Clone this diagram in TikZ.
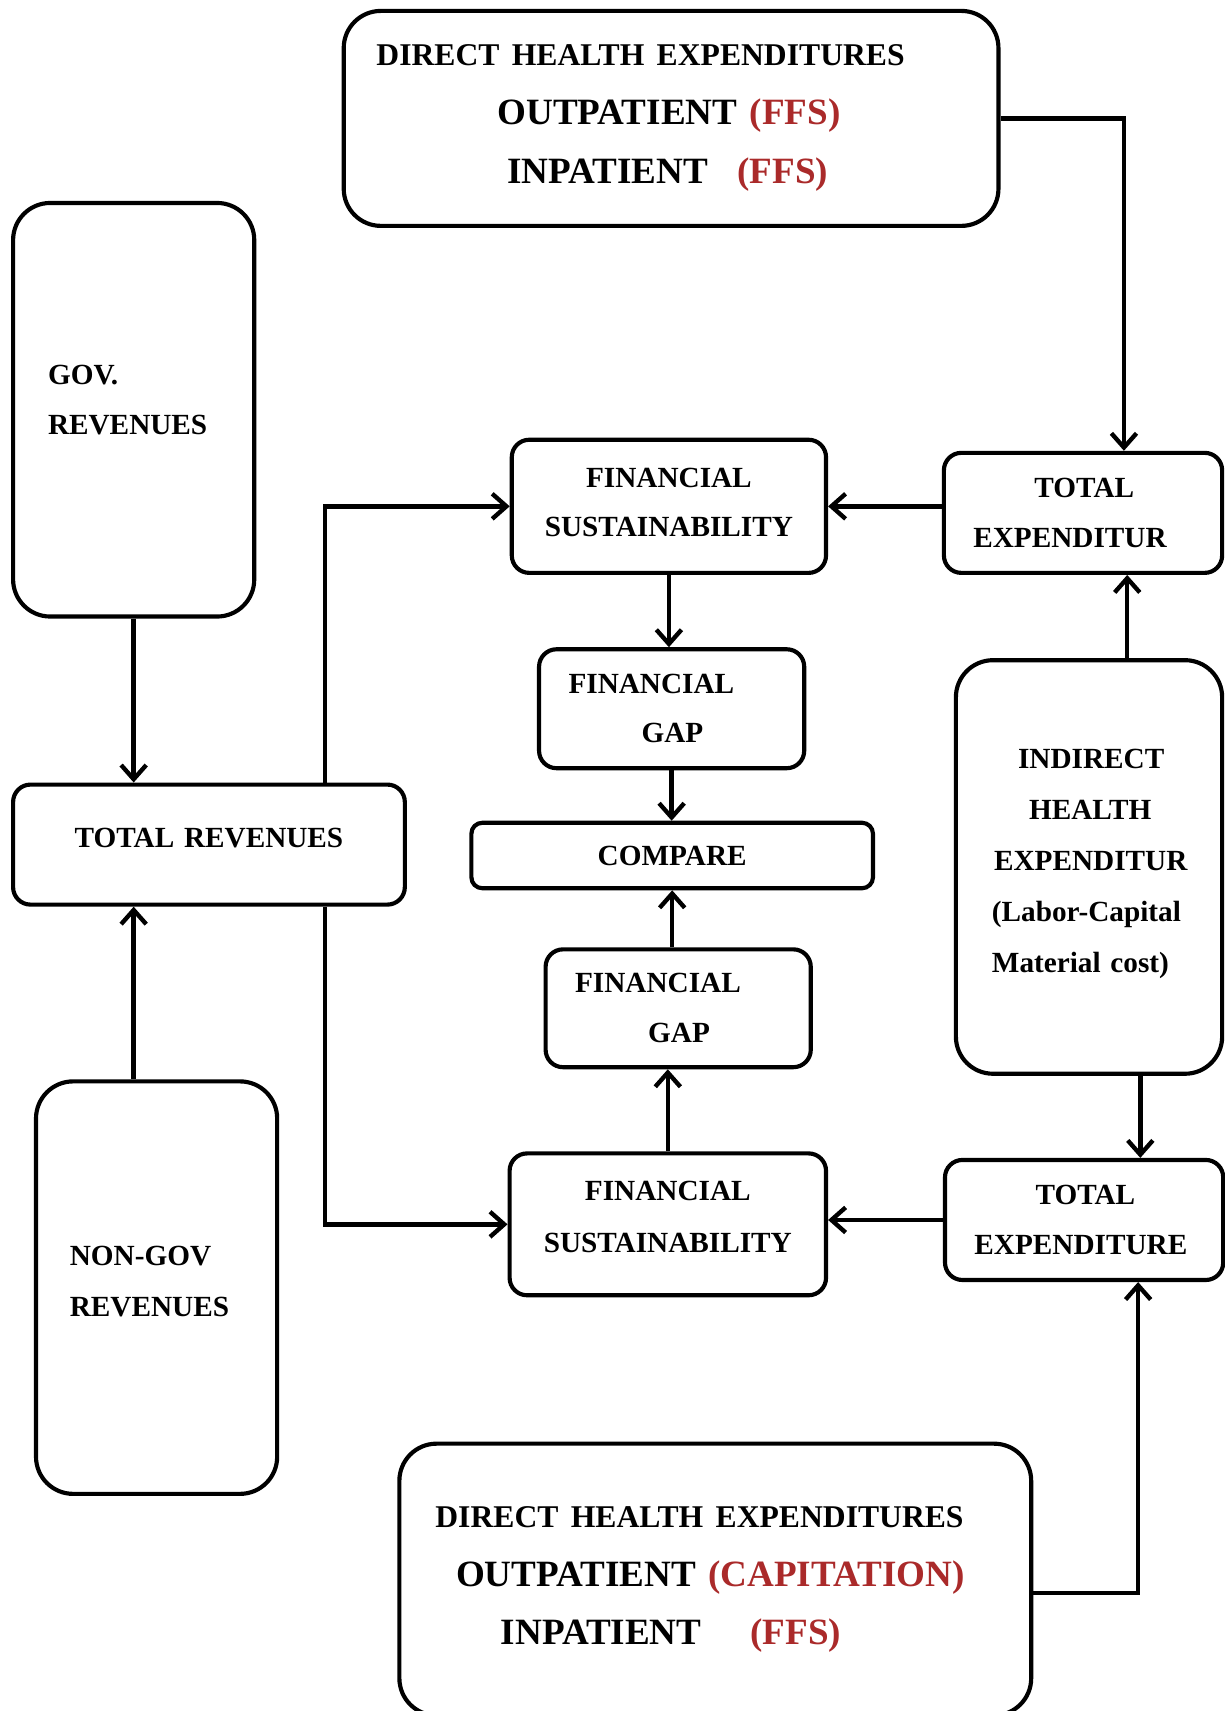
\documentclass[tikz,border=0pt]{standalone}
\usepackage{fontspec}
\setmainfont{Liberation Serif}
\usetikzlibrary{arrows.meta}
\definecolor{ffsred}{RGB}{170,42,42}
\tikzset{
  flowbox/.style={draw, line width=1.9pt, rounded corners=8pt, inner xsep=0pt, inner ysep=0pt,
    align=left, font=\bfseries\fontsize{13.4}{23}\selectfont},
  bigbox/.style={flowbox, rounded corners=17pt},
  flowarrow/.style={line width=2pt, -{Straight Barb[length=6.5pt,width=11.5pt]}}
}

\begin{document}
\begin{tikzpicture}[x=0.5pt,y=-0.5pt]
                    \useasboundingbox (0,0) rectangle (1122,1568);
                    \node [bigbox,text width=300pt,minimum height=98.5pt,font=\bfseries\fontsize{17}{27}\selectfont] (topdirect) at (615,108.5)
                    {\hspace*{15pt}{\fontsize{14.5}{27}\selectfont DIRECT HEALTH EXPENDITURES}\\
                    \hspace*{70.5pt}OUTPATIENT {\color{ffsred}(FFS)}\\
                    \hspace*{75pt}INPATIENT\hspace{13.5pt}{\color{ffsred}(FFS)}};
                    \node [bigbox,text width=289.5pt,minimum height=124.5pt,font=\bfseries\fontsize{17}{27}\selectfont] (botdirect) at (655.5,1447.5)
                    {\hspace*{16.5pt}{\fontsize{14.5}{27}\selectfont DIRECT HEALTH EXPENDITURES}\\
                    \hspace*{26pt}OUTPATIENT {\color{ffsred}(CAPITATION)}\\
                    \hspace*{46.5pt}INPATIENT\hspace{22.5pt}{\color{ffsred}(FFS)}};
                    \node [bigbox,text width=110.5pt,minimum height=189.5pt,text depth=32pt] (gov) at (122.5,375.5)
                    {\hspace*{16pt}GOV.\\\hspace*{16pt}REVENUES};
                    \node [bigbox,text width=110.5pt,minimum height=189pt,text depth=29.5pt,font=\bfseries\fontsize{13.4}{23.5}\selectfont] (nongov) at (143.5,1180)
                    {\hspace*{15.5pt}NON-GOV\\\hspace*{15.5pt}REVENUES};
                    \node [flowbox,align=center,text width=179.5pt,minimum height=55pt,text depth=6pt] (totrev) at (191.5,774) {TOTAL REVENUES};
                    \node [flowbox,align=center,text width=144pt,minimum height=61pt,text depth=26.5pt,font=\bfseries\fontsize{13.4}{22.5}\selectfont] (finsus1) at (613,464)
                    {FINANCIAL\\SUSTAINABILITY};
                    \node [flowbox,text width=121.5pt,minimum height=54.5pt,font=\bfseries\fontsize{13.4}{22.5}\selectfont] (fingap1) at (615.5,649.5)
                    {\hspace*{13.5pt}FINANCIAL\\\hspace*{47pt}GAP};
                    \node [flowbox,align=center,rounded corners=5pt,text width=184pt,minimum height=30pt] (compare) at (616,784) {COMPARE};
                    \node [flowbox,text width=121.5pt,minimum height=54pt] (fingap2) at (621.5,924)
                    {\hspace*{13.5pt}FINANCIAL\\\hspace*{47pt}GAP};
                    \node [flowbox,align=center,text width=145pt,minimum height=65pt,text depth=30.5pt,font=\bfseries\fontsize{13.4}{23.5}\selectfont] (finsus2) at (612,1122)
                    {FINANCIAL\\SUSTAINABILITY};
                    \node [flowbox,text width=127.5pt,minimum height=55pt] (totexp1) at (992.5,470)
                    {\hspace*{41.5pt}TOTAL\\\hspace*{13.5pt}EXPENDITUR};
                    \node [bigbox,text width=122pt,minimum height=189.5pt,text depth=99.5pt,font=\bfseries\fontsize{13.4}{23.4}\selectfont] (indirect) at (998,794.5)
                    {\hspace*{28.5pt}INDIRECT\\\hspace*{33.5pt}HEALTH\\\hspace*{17.5pt}EXPENDITUR\\
                    \hspace*{16.5pt}(Labor-Capital\\\hspace*{16.5pt}Material cost)};
                    \node [flowbox,text width=127.5pt,minimum height=55pt] (totexp2) at (993.5,1118)
                    {\hspace*{41.5pt}TOTAL\\\hspace*{13.5pt}EXPENDITURE};
                    \draw [flowarrow] (topdirect.east) -| ([xshift=18.75pt]totexp1.north);
                    \draw [flowarrow] (totexp1.west |- finsus1.east) -- (finsus1.east);
                    \draw [flowarrow] ([xshift=53.25pt]totrev.north) |- (finsus1.west);
                    \draw [flowarrow] ([xshift=53.25pt]totrev.south) |- (finsus2.west);
                    \draw [flowarrow] (gov.south) -- (gov.south |- totrev.north);
                    \draw [flowarrow] (nongov.north -| gov.south) -- (totrev.south -| gov.south);
                    \draw [flowarrow] (finsus1.south) -- (finsus1.south |- fingap1.north);
                    \draw [flowarrow] (fingap1.south) -- (fingap1.south |- compare.north);
                    \draw [flowarrow] (fingap2.north -| compare.south) -- (compare.south);
                    \draw [flowarrow] (finsus2.north) -- (finsus2.north |- fingap2.south);
                    \draw [flowarrow] ([xshift=17.5pt]indirect.north) -- ([xshift=17.5pt]indirect.north |- totexp1.south);
                    \draw [flowarrow] ([xshift=23.5pt]indirect.south) -- ([xshift=23.5pt]indirect.south |- totexp2.north);
                    \draw [flowarrow] (totexp2.west) -- (totexp2.west -| finsus2.east);
                    \draw [flowarrow] ([yshift=-6.25pt]botdirect.east) -| ([xshift=24.75pt]totexp2.south);
                \end{tikzpicture}
\end{document}
